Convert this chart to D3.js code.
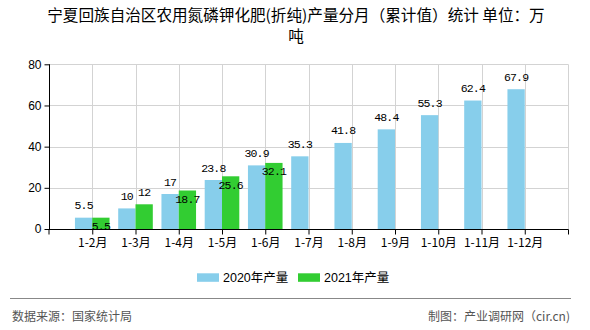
<!DOCTYPE html>
<html><head><meta charset="utf-8">
<script src="https://cdn.jsdelivr.net/npm/d3@7"></script>
<style>
html,body{margin:0;padding:0;background:#fff;}
svg{display:block;}
</style>
</head><body>
<svg id="c" width="590" height="330"></svg>
<script>
const titleLines = ["宁夏回族自治区农用氮磷钾化肥(折纯)产量分月（累计值）统计 单位：万", "吨"];
const categories = ["1-2月","1-3月","1-4月","1-5月","1-6月","1-7月","1-8月","1-9月","1-10月","1-11月","1-12月"];
const series2020 = [5.5,10,17,23.8,30.9,35.3,41.8,48.4,55.3,62.4,67.9];
const series2021 = [5.5,12,18.7,25.6,32.1];
const seriesNames = ["2020年产量","2021年产量"];
const yTicks = [0,20,40,60,80];
const sourceText = "数据来源：国家统计局";
const creditText = "制图：产业调研网（cir.cn)";

const colors = ["#87CEEB","#32CD32"];
const svg = d3.select("#c");
const L = 49, R = 568, T = 64.3, B = 229;

const x = d3.scalePoint().domain(categories).range([L, R]).padding(1);
const y = d3.scaleLinear().domain([0, 80]).range([B, T]);
const step = x.step();
const bw = step * 0.4;

// title (wrapped in two lines)
svg.selectAll("text.title").data(titleLines).enter().append("text")
  .attr("class","title")
  .attr("x", 296).attr("y", (d,i) => 21 + i*21)
  .attr("text-anchor","middle")
  .attr("font-family","'Noto Sans CJK SC', sans-serif")
  .attr("font-size","15.6px").attr("fill","#000")
  .text(d => d);

// gridlines
const g = svg.append("g");
g.selectAll("line.hg").data(yTicks.filter(d => d > 0)).enter().append("line")
  .attr("x1", L).attr("x2", R).attr("y1", d => Math.round(y(d))+0.5).attr("y2", d => Math.round(y(d))+0.5)
  .attr("stroke","#d3d3d3").attr("stroke-width",1);
g.selectAll("line.vg").data(categories).enter().append("line")
  .attr("x1", d => Math.round(x(d))+0.5).attr("x2", d => Math.round(x(d))+0.5)
  .attr("y1", T).attr("y2", B)
  .attr("stroke","#d3d3d3").attr("stroke-width",1);
g.append("line").attr("x1", R+0.5).attr("x2", R+0.5).attr("y1", T).attr("y2", B)
  .attr("stroke","#d3d3d3");

// bars
const bars = svg.append("g");
bars.selectAll("rect.b20").data(series2020).enter().append("rect")
  .attr("x", (d,i) => x(categories[i]) - bw).attr("width", bw)
  .attr("y", d => y(d)).attr("height", d => B - y(d))
  .attr("fill", colors[0]);
bars.selectAll("rect.b21").data(series2021).enter().append("rect")
  .attr("x", (d,i) => x(categories[i])).attr("width", bw)
  .attr("y", d => y(d)).attr("height", d => B - y(d))
  .attr("fill", colors[1]);

// value labels
const lblFont = "'Liberation Mono', 'DejaVu Sans Mono', monospace";
svg.selectAll("text.l20").data(series2020).enter().append("text")
  .attr("x", (d,i) => x(categories[i]) - bw/2)
  .attr("y", d => y(d) - 8.5)
  .attr("text-anchor","middle").attr("font-family", lblFont)
  .attr("font-size","11.5px").attr("letter-spacing","-0.8px").attr("fill","#000")
  .text(d => String(d));
svg.selectAll("text.l21").data(series2021).enter().append("text")
  .attr("x", (d,i) => x(categories[i]) + bw/2)
  .attr("y", (d,i) => (d - series2020[i] >= 2) ? y(d) - 8.5 : y(d) + 12.5)
  .attr("text-anchor","middle").attr("font-family", lblFont)
  .attr("font-size","11.5px").attr("letter-spacing","-0.8px").attr("fill","#000")
  .text(d => String(d));

// axes
const yAxis = d3.axisLeft(y).tickValues(yTicks).tickSize(5).tickPadding(3).tickFormat(d3.format("d"));
const ya = svg.append("g").attr("transform", `translate(${L+0.5},0)`).call(yAxis);
ya.select(".domain").attr("stroke","#000").attr("d", `M0,${T}V${B}`);
ya.selectAll(".tick line").attr("stroke","#000");
ya.selectAll("text").attr("font-family","'Liberation Sans', Arial, sans-serif").attr("font-size","12px").attr("fill","#000");

const xAxis = d3.axisBottom(x).tickSize(5).tickPadding(4);
const xa = svg.append("g").attr("transform", `translate(0,${B+0.5})`).call(xAxis);
xa.select(".domain").attr("stroke","#000").attr("d", `M${L},5V0H${R+0.5}V5`);
xa.selectAll(".tick line").attr("stroke","#000");
xa.selectAll("text").attr("font-family","'Noto Sans CJK SC', sans-serif").attr("font-size","12px").attr("fill","#000");

// legend
const lg = svg.append("g");
const legX = [197, 298];
seriesNames.forEach((n,i) => {
  lg.append("rect").attr("x", legX[i]).attr("y", 273.3).attr("width", 22).attr("height", 8.5).attr("fill", colors[i]);
  lg.append("text").attr("x", legX[i] + 26).attr("y", 282)
    .attr("font-family","'Liberation Sans', 'Noto Sans CJK SC', sans-serif").attr("font-size","12.5px").attr("fill","#000").text(n);
});

// footer
svg.append("line").attr("x1", 10).attr("x2", 571).attr("y1", 298.5).attr("y2", 298.5).attr("stroke","#888").attr("stroke-width",1);
svg.append("text").attr("x", 12).attr("y", 321).attr("font-family","'Noto Sans CJK SC', sans-serif")
  .attr("font-size","12px").attr("fill","#555").text(sourceText);
svg.append("text").attr("x", 570).attr("y", 321).attr("text-anchor","end").attr("font-family","'Noto Sans CJK SC', sans-serif")
  .attr("font-size","12px").attr("fill","#555").text(creditText);
</script>
</body></html>
